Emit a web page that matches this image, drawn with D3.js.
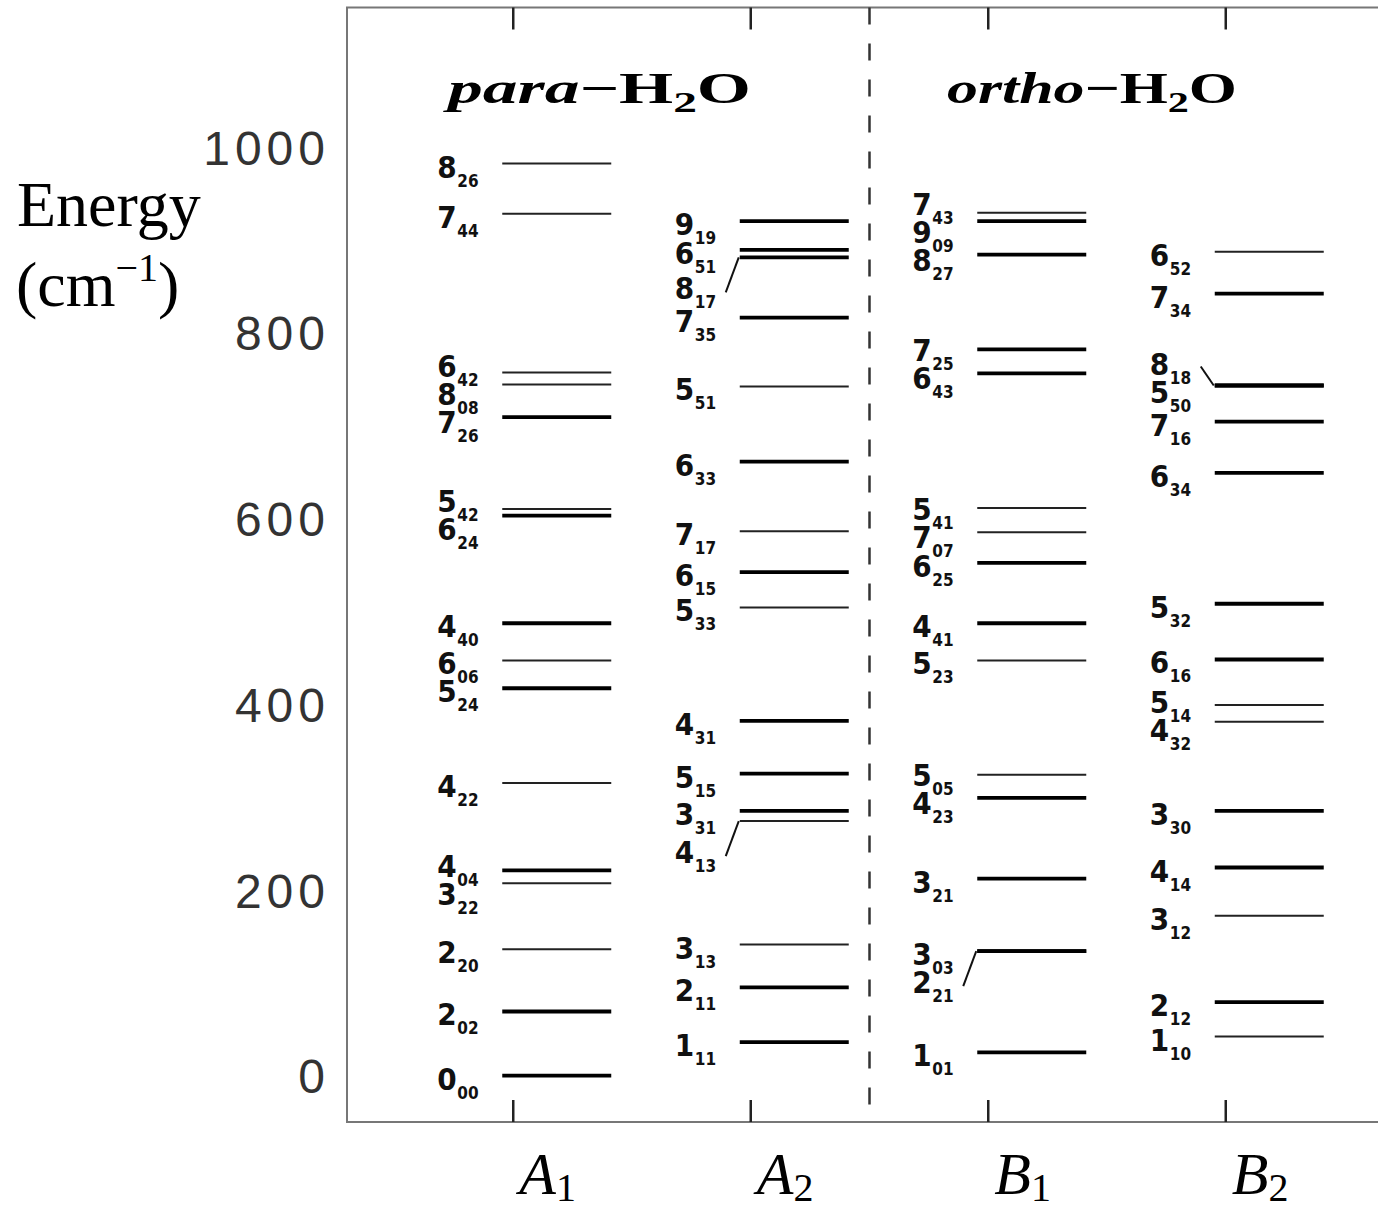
<!DOCTYPE html>
<html lang="en">
<head>
  <meta charset="UTF-8">
  <title>H2O rotational energy levels</title>
  <script src="https://d3js.org/d3.v7.min.js"></script>
  <style>
    body { margin: 0; background: #fff; }
    svg { display: block; }
    .lvl-label { font-family: "DejaVu Sans Condensed", "DejaVu Sans", sans-serif; font-weight: bold; fill: #111; }
    .tick-label { font-family: "Liberation Sans", Arial, sans-serif; font-size: 48px; fill: #333; letter-spacing: 5px; }
    .serif { font-family: "Liberation Serif", "Times New Roman", serif; fill: #000; }
  </style>
</head>
<body>
<svg id="chart" width="1378" height="1212"></svg>
<script>
// ---- data: level name (J, KaKc), energy in cm-1, strong line, label with callout ----
const a1Names  = [["0","00"],["2","02"],["2","20"],["3","22"],["4","04"],["4","22"],["5","24"],["6","06"],
                  ["4","40"],["6","24"],["5","42"],["7","26"],["8","08"],["6","42"],["7","44"],["8","26"]];
const a1Energy = [0, 69, 136, 207, 221, 315, 417, 447, 487, 603, 610, 709, 744, 757, 928, 982];
const a1Strong = [1, 1, 0, 0, 1, 0, 1, 0, 1, 1, 0, 1, 0, 0, 0, 0];
const a1Callout = [];

const a2Names  = [["1","11"],["2","11"],["3","13"],["4","13"],["3","31"],["5","15"],["4","31"],["5","33"],
                  ["6","15"],["7","17"],["6","33"],["5","51"],["7","35"],["8","17"],["6","51"],["9","19"]];
const a2Energy = [36, 95, 141, 274, 285, 325, 382, 504, 542, 586, 661, 742, 816, 881, 889, 920];
const a2Strong = [1, 1, 0, 0, 1, 1, 1, 0, 1, 0, 1, 0, 1, 1, 1, 1];
const a2Callout = ["413", "817"];

const b1Names  = [["1","01"],["2","21"],["3","03"],["3","21"],["4","23"],["5","05"],["5","23"],["4","41"],
                  ["6","25"],["7","07"],["5","41"],["6","43"],["7","25"],["8","27"],["9","09"],["7","43"]];
const b1Energy = [25, 134, 134, 212, 299, 324, 447, 487, 552, 585, 611, 756, 782, 884, 920, 929];
const b1Strong = [1, 1, 1, 1, 1, 0, 0, 1, 1, 0, 0, 1, 1, 1, 1, 0];
const b1Callout = ["221"];

const b2Names  = [["1","10"],["2","12"],["3","12"],["4","14"],["3","30"],["4","32"],["5","14"],["6","16"],
                  ["5","32"],["6","34"],["7","16"],["5","50"],["8","18"],["7","34"],["6","52"]];
const b2Energy = [42, 79, 172, 224, 285, 381, 399, 448, 508, 649, 704, 743, 743, 842, 887];
const b2Strong = [0, 1, 0, 1, 1, 0, 0, 1, 1, 1, 1, 1, 1, 1, 0];
const b2Callout = ["818"];

const symmetries = [["A","1"],["A","2"],["B","1"],["B","2"]];
const yTicks = [0, 200, 400, 600, 800, 1000];
const titles = [["para", 1.5], ["ortho", 3.5]];

// ---- layout ----
const svg = d3.select("#chart");
const x = d3.scaleLinear().domain([0.3, 4.7]).range([347, 1392]);
const y = d3.scaleLinear().domain([-50, 1150]).range([1122, 7.5]);

function buildColumn(names, energy, strong, callout) {
  return names.map((n, i) => ({ j: n[0], k: n[1], e: energy[i], strong: strong[i] === 1,
                                 callout: callout.includes(n[0] + n[1]) }));
}
const columns = [
  buildColumn(a1Names, a1Energy, a1Strong, a1Callout),
  buildColumn(a2Names, a2Energy, a2Strong, a2Callout),
  buildColumn(b1Names, b1Energy, b1Strong, b1Callout),
  buildColumn(b2Names, b2Energy, b2Strong, b2Callout)
];

// place labels: callouts go to the side with more room, others are spread apart
function placeLabels(levels) {
  const gap = 28;
  levels.forEach(d => { d.ly = y(d.e) + 3; d.fixed = false; });
  levels.forEach(d => {
    if (!d.callout) return;
    const others = levels.filter(o => o !== d && Math.abs(o.e - d.e) > 3);
    const above = d3.min(others.filter(o => o.e > d.e), o => o.e - d.e) ?? 1e9;
    const below = d3.min(others.filter(o => o.e < d.e), o => d.e - o.e) ?? 1e9;
    d.dir = below > above ? 1 : -1;
    d.ly = y(d.e) + (d.dir > 0 ? 31 : -22);
    d.fixed = true;
  });
  const s = levels.slice().sort((a, b) => a.ly - b.ly);
  for (let it = 0; it < 200; it++) {
    for (let i = 0; i < s.length - 1; i++) {
      const a = s[i], b = s[i + 1], ov = gap - (b.ly - a.ly);
      if (ov <= 0) continue;
      if (a.fixed && b.fixed) continue;
      if (a.fixed) b.ly += ov;
      else if (b.fixed) a.ly -= ov;
      else { a.ly -= ov / 2; b.ly += ov / 2; }
    }
  }
}

// frame
svg.append("rect")
  .attr("x", x(0.3)).attr("y", y(1150))
  .attr("width", x(4.7) - x(0.3)).attr("height", y(-50) - y(1150))
  .attr("fill", "none").attr("stroke", "#777").attr("stroke-width", 2);

// dashed separator between para and ortho
svg.append("line")
  .attr("x1", x(2.5)).attr("x2", x(2.5))
  .attr("y1", y(1150)).attr("y2", y(-50))
  .attr("stroke", "#333").attr("stroke-width", 2.5)
  .attr("stroke-dasharray", "17 19");

// column ticks top and bottom
[1, 2, 3, 4].forEach(c => {
  svg.append("line").attr("x1", x(c)).attr("x2", x(c))
    .attr("y1", y(-50)).attr("y2", y(-50) - 22)
    .attr("stroke", "#222").attr("stroke-width", 2.5);
  svg.append("line").attr("x1", x(c)).attr("x2", x(c))
    .attr("y1", y(1150)).attr("y2", y(1150) + 22)
    .attr("stroke", "#222").attr("stroke-width", 2.5);
});

// y axis labels
const yAxis = d3.axisLeft(y).tickValues(yTicks).tickFormat(d3.format("d")).tickSize(0).tickPadding(0);
const gy = svg.append("g").attr("transform", `translate(${x(0.3) - 17},0)`).call(yAxis);
gy.select(".domain").remove();
gy.selectAll("text").attr("class", "tick-label").attr("fill", null)
  .attr("font-size", null).attr("font-family", null).attr("dy", "0.36em");

// energy levels
columns.forEach((levels, ci) => {
  const cx = x(ci + 1);
  placeLabels(levels);
  const g = svg.append("g");
  g.selectAll("line.lvl").data(levels).join("line")
    .attr("class", "lvl")
    .attr("x1", cx - 11).attr("x2", cx + 98)
    .attr("y1", d => y(d.e)).attr("y2", d => y(d.e))
    .attr("stroke", d => d.strong ? "#000" : "#222")
    .attr("stroke-width", d => d.strong ? 3.8 : 2);

  g.selectAll("path.callout").data(levels.filter(d => d.callout)).join("path")
    .attr("class", "callout")
    .attr("d", d => `M${cx - 25},${d.ly + (d.dir > 0 ? 4 : 3)}L${cx - 12},${y(d.e)}`)
    .attr("fill", "none").attr("stroke", "#111").attr("stroke-width", 2);

  const t = g.selectAll("text.lvl-label").data(levels).join("text")
    .attr("class", "lvl-label");
  t.append("tspan").attr("x", cx - 76).attr("y", d => d.ly + 11)
    .attr("font-size", 31).text(d => d.j);
  t.append("tspan").attr("x", cx - 56).attr("y", d => d.ly + 20)
    .attr("font-size", 17).text(d => d.k);
});

// titles
titles.forEach(([name, pos], i) => {
  const tx = svg.append("text").attr("class", "serif")
    .attr("x", x(pos) - (i === 0 ? 184 : 160)).attr("y", 103)
    .attr("font-size", 44).attr("font-weight", "bold")
    .attr("textLength", i === 0 ? 303 : 290).attr("lengthAdjust", "spacingAndGlyphs");
  tx.append("tspan").attr("font-style", "italic").text(name);
  tx.append("tspan").text("\u2212H");
  tx.append("tspan").attr("font-size", 30).attr("dy", 9).text("2");
  tx.append("tspan").attr("dy", -9).text("O");
});

// axis titles
const ey = svg.append("text").attr("class", "serif").attr("font-size", 64);
ey.append("tspan").attr("x", 17).attr("y", 226).text("Energy");
const cm = svg.append("text").attr("class", "serif").attr("font-size", 64)
  .attr("x", 16).attr("y", 306);
cm.append("tspan").text("(cm");
cm.append("tspan").attr("font-size", 40).attr("dy", -25).text("\u22121");
cm.append("tspan").attr("dy", 25).text(")");

// symmetry labels
symmetries.forEach(([s, n], i) => {
  const t = svg.append("text").attr("class", "serif")
    .attr("x", x(i + 1) + 6).attr("y", 1194).attr("font-size", 60);
  t.append("tspan").attr("font-style", "italic").text(s);
  t.append("tspan").attr("font-size", 40).attr("dy", 7).text(n);
});
</script>
</body>
</html>
